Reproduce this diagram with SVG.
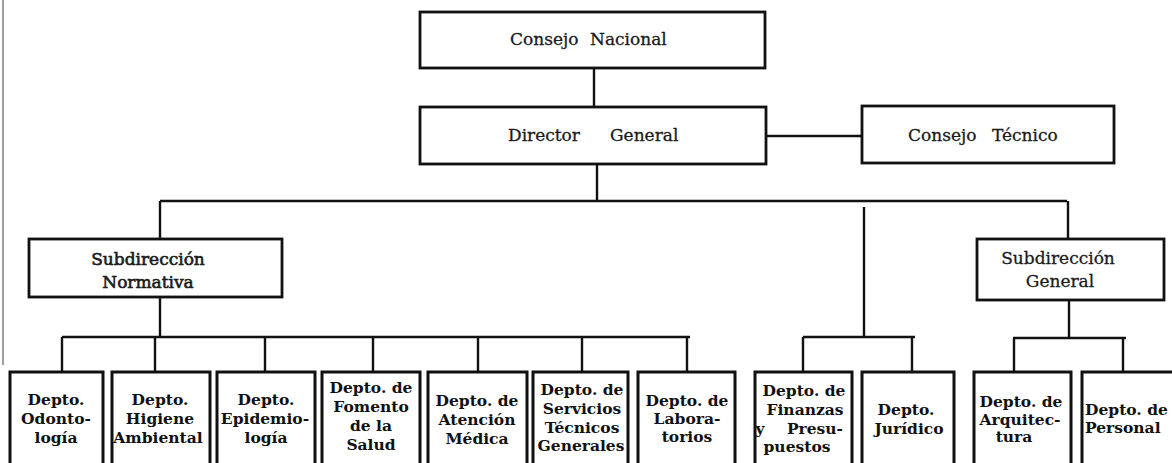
<svg xmlns="http://www.w3.org/2000/svg" width="1172" height="463" viewBox="0 0 1172 463">
<style>
.box{fill:#fff;stroke:#111;stroke-width:2.8}
.dept{fill:#fff;stroke:#111;stroke-width:3}
.con{fill:none;stroke:#111;stroke-width:2.4}
.t1{font-family:"DejaVu Serif","Liberation Serif",serif;font-size:17px;fill:#1a1a1a;stroke:#1a1a1a;stroke-width:0.3}
.t1b{font-family:"DejaVu Serif","Liberation Serif",serif;font-size:17px;fill:#1a1a1a;stroke:#1a1a1a;stroke-width:0.6}
.t2{font-family:"DejaVu Serif","Liberation Serif",serif;font-size:15.5px;font-weight:bold;fill:#111;text-anchor:middle}
.edge{stroke:#777;stroke-width:1.4}
</style>
<rect width="1172" height="463" fill="#fff"/>
<line class="edge" x1="3" y1="0" x2="3" y2="365"/>
<g id="connectors">
<path class="con" d="M594,68V107"/>
<path class="con" d="M766,136H862"/>
<path class="con" d="M597,164V201"/>
<path class="con" d="M160,201H1067"/>
<path class="con" d="M160,201V239"/>
<path class="con" d="M1068,201V239"/>
<path class="con" d="M864,207V337"/>
<path class="con" d="M160,297V337"/>
<path class="con" d="M62,337H690"/>
<path class="con" d="M62,337V372M155,337V372M265,337V372M373,337V372M478,337V372M582,337V372M687,337V372"/>
<path class="con" d="M803,337H915M803,337V372M912,337V372"/>
<path class="con" d="M1069,300V338"/>
<path class="con" d="M1013,338H1126M1014,338V372M1123,338V372"/>
</g>
<g id="consejo-nacional">
<rect class="box" x="420" y="12" width="345" height="56"/>
<text class="t1" y="45"><tspan x="510">Consejo</tspan><tspan x="590">Nacional</tspan></text>
</g>
<g id="director-general">
<rect class="box" x="420" y="107" width="346" height="57"/>
<text class="t1" y="141"><tspan x="508">Director</tspan><tspan x="610">General</tspan></text>
</g>
<g id="consejo-tecnico">
<rect class="box" x="862" y="106" width="252" height="57"/>
<text class="t1" y="141"><tspan x="908">Consejo</tspan><tspan x="992">Técnico</tspan></text>
</g>
<g id="subdireccion-normativa">
<rect class="box" x="29" y="239" width="253" height="58"/>
<text class="t1b" text-anchor="middle"><tspan x="148" y="265">Subdirección</tspan><tspan x="148" y="288">Normativa</tspan></text>
</g>
<g id="subdireccion-general">
<rect class="box" x="977" y="239" width="187" height="61"/>
<text class="t1" text-anchor="middle"><tspan x="1058" y="264">Subdirección</tspan><tspan x="1060" y="287">General</tspan></text>
</g>
<g id="depto-odontologia">
<path class="dept" d="M10,470V372H103V470"/>
<text class="t2"><tspan x="56" y="405">Depto.</tspan><tspan x="56" y="424">Odonto-</tspan><tspan x="56" y="443">logía</tspan></text>
</g>
<g id="depto-higiene">
<path class="dept" d="M112,470V372H210V470"/>
<text class="t2"><tspan x="160" y="405">Depto.</tspan><tspan x="160" y="424">Higiene</tspan><tspan x="158" y="443">Ambiental</tspan></text>
</g>
<g id="depto-epidemiologia">
<path class="dept" d="M217,470V372H315V470"/>
<text class="t2"><tspan x="266" y="405">Depto.</tspan><tspan x="265" y="424">Epidemio-</tspan><tspan x="266" y="443">logía</tspan></text>
</g>
<g id="depto-fomento">
<path class="dept" d="M322,470V372H420V470"/>
<text class="t2"><tspan x="371" y="393">Depto. de</tspan><tspan x="371" y="412">Fomento</tspan><tspan x="371" y="431">de la</tspan><tspan x="371" y="450">Salud</tspan></text>
</g>
<g id="depto-atencion">
<path class="dept" d="M428,470V372H527V470"/>
<text class="t2"><tspan x="477" y="406">Depto. de</tspan><tspan x="477" y="425">Atención</tspan><tspan x="477" y="444">Médica</tspan></text>
</g>
<g id="depto-servicios">
<path class="dept" d="M533,470V372H628V470"/>
<text class="t2"><tspan x="582" y="395">Depto. de</tspan><tspan x="582" y="414">Servicios</tspan><tspan x="582" y="433">Técnicos</tspan><tspan x="581" y="451">Generales</tspan></text>
</g>
<g id="depto-laboratorios">
<path class="dept" d="M638,470V372H735V470"/>
<text class="t2"><tspan x="687" y="406">Depto. de</tspan><tspan x="687" y="424">Labora-</tspan><tspan x="687" y="442">torios</tspan></text>
</g>
<g id="depto-finanzas">
<path class="dept" d="M755,470V372H852V470"/>
<text class="t2"><tspan x="804" y="396">Depto. de</tspan><tspan x="805" y="415">Finanzas</tspan><tspan x="760" y="434">y</tspan><tspan x="815" y="434">Presu-</tspan><tspan x="797" y="452">puestos</tspan></text>
</g>
<g id="depto-juridico">
<path class="dept" d="M862,470V372H954V470"/>
<text class="t2"><tspan x="906" y="415">Depto.</tspan><tspan x="909" y="434">Jurídico</tspan></text>
</g>
<g id="depto-arquitectura">
<path class="dept" d="M974,470V372H1071V470"/>
<text class="t2"><tspan x="1021" y="407">Depto. de</tspan><tspan x="1020" y="425">Arquitec-</tspan><tspan x="1014" y="442">tura</tspan></text>
</g>
<g id="depto-personal">
<path class="dept" d="M1082,470V372H1180"/>
<text class="t2" style="text-anchor:start"><tspan x="1085" y="415">Depto. de</tspan><tspan x="1085" y="433">Personal</tspan></text>
</g>
</svg>
